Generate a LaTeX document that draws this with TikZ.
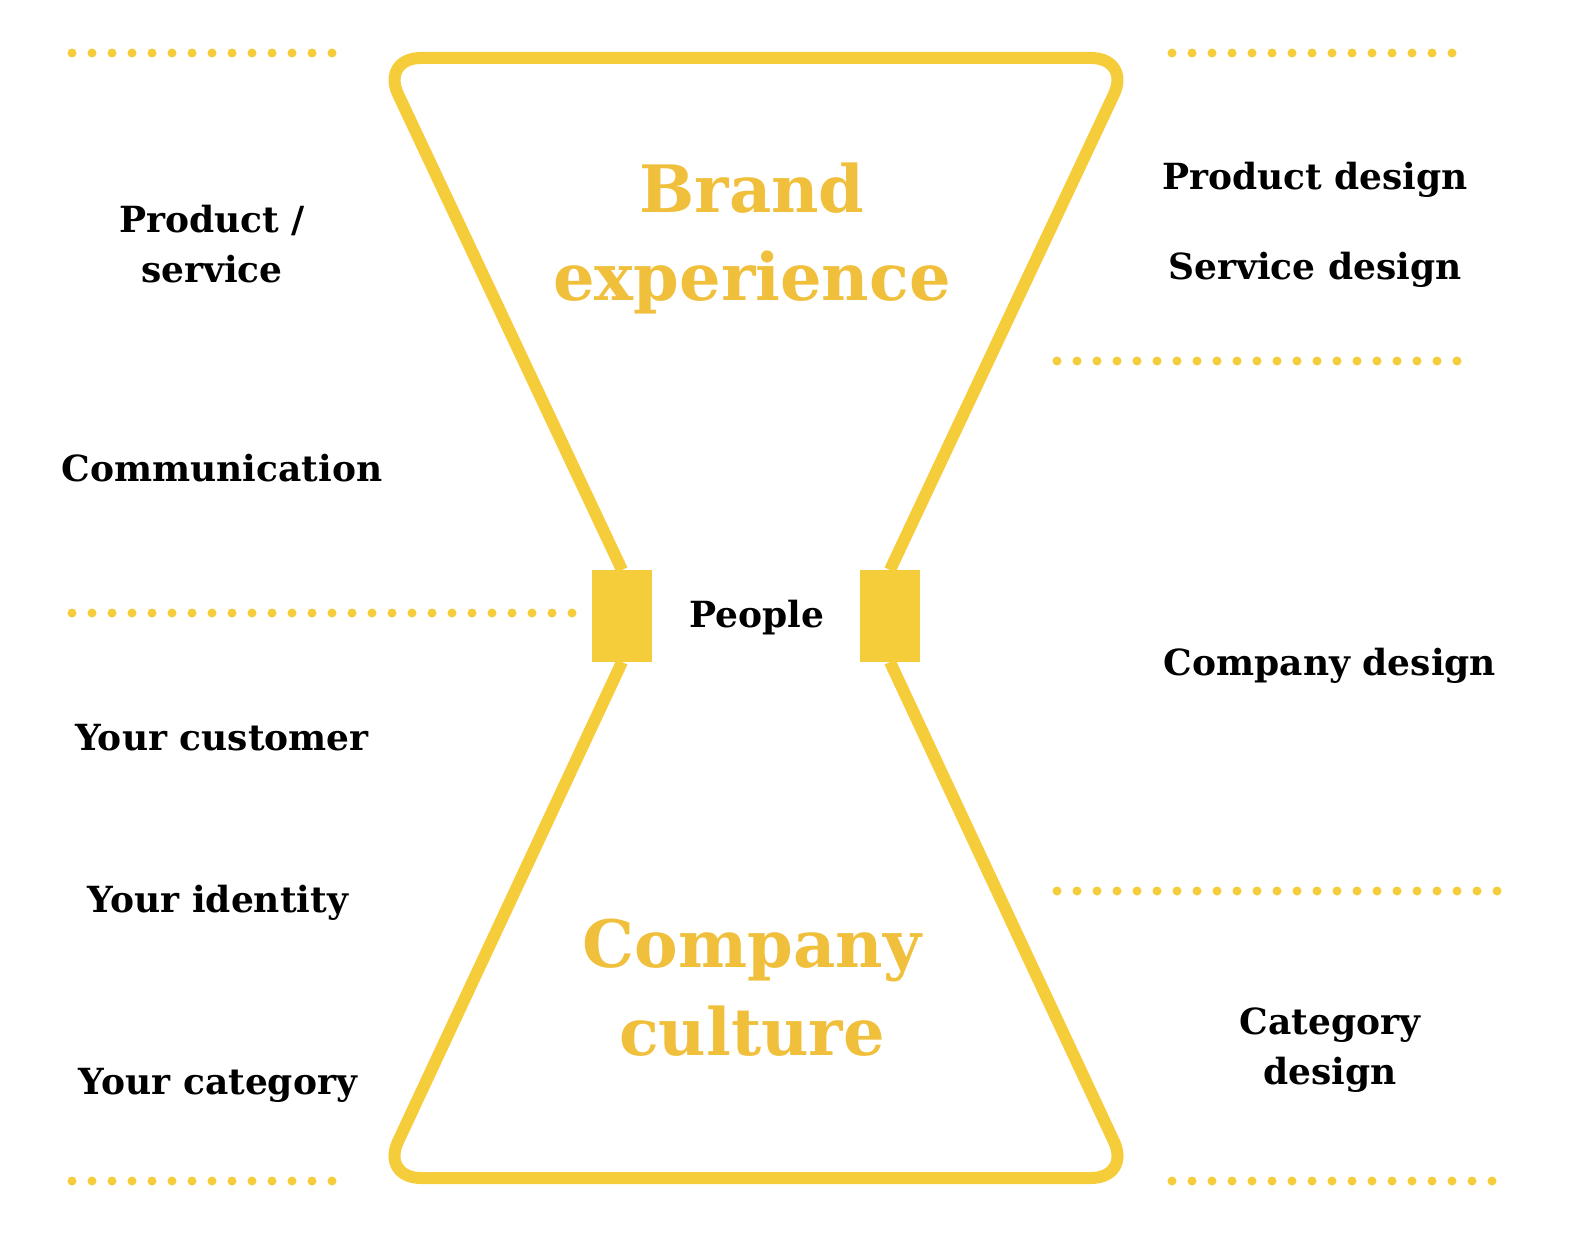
\documentclass[tikz,border=0pt]{standalone}
\usepackage{fontspec}
\setmainfont{DejaVu Serif}
\begin{document}
\begin{tikzpicture}[x=0.75pt,y=-0.75pt,
  yel/.style={draw=hy,line width=9pt,line join=round},
  lbl/.style={font=\fontsize{27}{37}\selectfont\bfseries,align=center,text=black},
  ttl/.style={font=\fontsize{49}{66}\selectfont\bfseries,align=center,text=ho}]
\definecolor{hy}{HTML}{F5CC3A}
\definecolor{ho}{HTML}{F0C03C}
\useasboundingbox (0,0) rectangle (1594,1244);
\newcommand{\dotrow}[4]{\foreach \xx in {#1,#2,...,#3}{\fill[hy] (\xx,#4) circle (4.5);}}
\dotrow{72}{92}{335}{53}
\dotrow{1172}{1192}{1458}{53}
\dotrow{1057}{1077}{1475}{361}
\dotrow{72}{92}{578}{613}
\dotrow{1057}{1077}{1503}{891}
\dotrow{72}{92}{350}{1181}
\dotrow{1172}{1192}{1503}{1181}
\coordinate (ls) at (622,570); \coordinate (rs) at (890,570);
\coordinate (lb) at (622,662); \coordinate (rb) at (890,662);
\draw[yel,rounded corners=30] (ls) -- (381,58) -- (1131,58) -- (rs);
\draw[yel,rounded corners=30] (lb) -- (381,1178) -- (1131,1178) -- (rb);
\fill[hy] (592,570) rectangle (652,662);
\fill[hy] (860,570) rectangle (920,662);
\node[ttl] (t1) at (752,238) {Brand\\experience};
\node[ttl] (t2) at (752,988) {Company\\culture};
\node[lbl] (pp) at (757,618) {People};
\node[lbl] at (212,244) {Product /\\service};
\node[lbl] at (222,468) {Communication};
\node[lbl] at (222,738) {Your customer};
\node[lbl] at (218,903) {Your identity};
\node[lbl] at (218,1085) {Your category};
\node[lbl] at (1315,180) {Product design};
\node[lbl] at (1315,270) {Service design};
\node[lbl] at (1330,666) {Company design};
\node[lbl] at (1330,1050) {Category\\design};
\end{tikzpicture}
\end{document}
